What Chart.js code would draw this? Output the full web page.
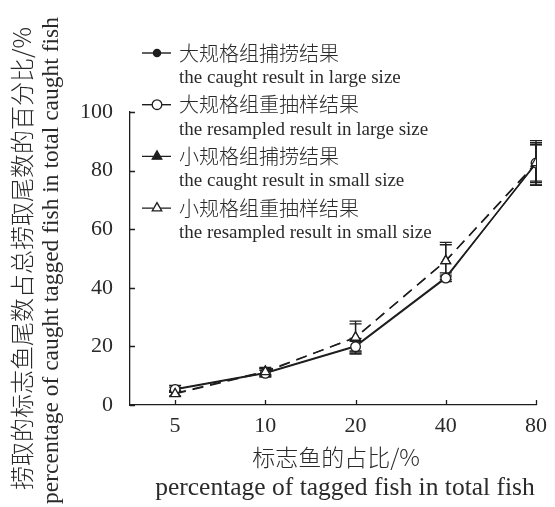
<!DOCTYPE html>
<html>
<head>
<meta charset="utf-8">
<script src="https://cdn.jsdelivr.net/npm/chart.js@4.4.1/dist/chart.umd.min.js"></script>
<style>
  html, body { margin: 0; padding: 0; background: #fff; }
  #wrap { width: 555px; height: 507px; position: relative; }
</style>
</head>
<body>
<div id="wrap"><canvas id="chartTag"></canvas></div>
<script>
// Datos
const xLabels = ['5', '10', '20', '40', '80'];
const yTicks = [0, 20, 40, 60, 80, 100];

const largeCaught = [5.5, 11.0, 20.2, 43.6, 82.4];
const largeCaughtErr = [1.2, 1.5, 2.5, 1.5, 6.5];
const largeResampled = [5.3, 10.8, 19.9, 43.3, 82.6];
const largeResampledErr = [0.8, 1.0, 1.8, 1.0, 7.6];
const smallCaught = [4.0, 11.5, 23.0, 49.2, 82.3];
const smallCaughtErr = [1.0, 1.3, 5.6, 6.3, 7.2];
const smallResampled = [3.8, 11.3, 23.1, 49.2, 82.6];
const smallResampledErr = [0.8, 1.0, 4.6, 5.5, 6.2];

const seriesZh = ['大规格组捕捞结果', '大规格组重抽样结果', '小规格组捕捞结果', '小规格组重抽样结果'];
const seriesEn = ['the caught result in large size', 'the resampled result in large size',
                  'the caught result in small size', 'the resampled result in small size'];

const yTitleZh = '捞取的标志鱼尾数占总捞取尾数的百分比/%';
const yTitleEn = 'percentage of caught tagged fish in total caught fish';
const xTitleZh = '标志鱼的占比/%';
const xTitleEn = 'percentage of tagged fish in total fish';

const INK = '#1e1e1e';
const TEXT = '#2a2a2a';
const SERIF = "'Liberation Serif', 'Noto Sans CJK SC', serif";
const CJK = "'Noto Sans CJK SC', sans-serif";
const DASH = [11, 7];

function toPoints(arr) {
    return arr.map((v, i) => ({ x: i + 1, y: v }));
}

function makeDataset(label, values, errs, style, dashed, filled, order) {
    return {
        label: label,
        data: toPoints(values),
        errs: errs,
        borderColor: INK,
        borderWidth: 1.4,
        borderDash: dashed ? DASH : [],
        pointStyle: style,
        pointRadius: style === 'triangle' ? 5.5 : (filled ? 3.6 : 4.8),
        pointBackgroundColor: filled ? INK : '#fff',
        pointBorderColor: INK,
        pointBorderWidth: 1.3,
        fill: false,
        tension: 0,
        order: order
    };
}

// Barras de error, marcas de eje, títulos y leyenda
const extrasPlugin = {
    id: 'extras',
    beforeDatasetsDraw(chart) {
        const ctx = chart.ctx;
        const xs = chart.scales.x, ys = chart.scales.y;
        ctx.save();
        ctx.strokeStyle = INK;
        ctx.lineWidth = 1.3;
        chart.data.datasets.forEach(ds => {
            ds.data.forEach((p, i) => {
                const e = ds.errs[i];
                const px = xs.getPixelForValue(p.x);
                const top = ys.getPixelForValue(p.y + e);
                const bot = ys.getPixelForValue(p.y - e);
                ctx.beginPath();
                ctx.moveTo(px, top); ctx.lineTo(px, bot);
                ctx.moveTo(px - 6, top); ctx.lineTo(px + 6, top);
                ctx.moveTo(px - 6, bot); ctx.lineTo(px + 6, bot);
                ctx.stroke();
            });
        });
        ctx.restore();
    },
    afterDraw(chart) {
        const ctx = chart.ctx;
        const xs = chart.scales.x, ys = chart.scales.y;
        const area = chart.chartArea;
        ctx.save();
        ctx.strokeStyle = INK;
        ctx.lineWidth = 1.3;
        // marcas hacia dentro
        ctx.beginPath();
        xs.ticks.forEach(t => {
            const px = Math.round(xs.getPixelForValue(t.value)) + 0.5;
            ctx.moveTo(px, area.bottom); ctx.lineTo(px, area.bottom - 5);
        });
        ys.ticks.forEach(t => {
            const py = Math.round(ys.getPixelForValue(t.value)) + 0.5;
            ctx.moveTo(area.left, py); ctx.lineTo(area.left + 5, py);
        });
        ctx.stroke();

        // títulos de ejes
        ctx.fillStyle = TEXT;
        ctx.textAlign = 'center';
        ctx.textBaseline = 'middle';
        ctx.font = '300 23px ' + CJK;
        ctx.fillText(xTitleZh, 336, 457);
        ctx.font = '25.5px ' + SERIF;
        ctx.fillText(xTitleEn, 345, 488);

        const midY = (area.top + area.bottom) / 2;
        ctx.save();
        ctx.translate(22, midY);
        ctx.rotate(-Math.PI / 2);
        ctx.font = '300 24px ' + CJK;
        ctx.fillText(yTitleZh, 0, 0);
        ctx.restore();
        ctx.save();
        ctx.translate(52, midY + 2);
        ctx.rotate(-Math.PI / 2);
        ctx.font = '23.5px ' + SERIF;
        ctx.fillText(yTitleEn, 0, 0);
        ctx.restore();

        // leyenda
        chart.data.datasets.forEach((ds, i) => {
            const y = 53 + i * 51.7;
            ctx.save();
            ctx.setLineDash(ds.borderDash);
            ctx.lineWidth = 1.4;
            ctx.beginPath();
            ctx.moveTo(142, y); ctx.lineTo(171, y);
            ctx.stroke();
            ctx.restore();
            ctx.save();
            ctx.fillStyle = ds.pointBackgroundColor;
            ctx.strokeStyle = INK;
            ctx.lineWidth = ds.pointBorderWidth;
            Chart.helpers.drawPoint(ctx, {
                pointStyle: ds.pointStyle,
                radius: ds.pointRadius,
                borderWidth: ds.pointBorderWidth
            }, 157, y);
            ctx.restore();
            ctx.fillStyle = TEXT;
            ctx.textAlign = 'left';
            ctx.textBaseline = 'middle';
            ctx.font = '300 20px ' + CJK;
            ctx.fillText(seriesZh[i], 179, y);
            ctx.font = '19px ' + SERIF;
            ctx.fillText(seriesEn[i], 179, y + 25);
        });
        ctx.restore();
    }
};

document.addEventListener('DOMContentLoaded', function () {
    const ctx = document.getElementById('chartTag').getContext('2d');
    new Chart(ctx, {
        type: 'line',
        data: {
            datasets: [
                makeDataset(seriesEn[0], largeCaught, largeCaughtErr, 'circle', false, true, 4),
                makeDataset(seriesEn[1], largeResampled, largeResampledErr, 'circle', false, false, 2),
                makeDataset(seriesEn[2], smallCaught, smallCaughtErr, 'triangle', true, true, 3),
                makeDataset(seriesEn[3], smallResampled, smallResampledErr, 'triangle', true, false, 1)
            ]
        },
        options: {
            responsive: true,
            maintainAspectRatio: false,
            animation: false,
            devicePixelRatio: 1,
            layout: { padding: { top: 112, right: 13, bottom: 0, left: 0 } },
            plugins: {
                legend: { display: false },
                tooltip: { enabled: false }
            },
            scales: {
                x: {
                    type: 'linear',
                    min: 0.5,
                    max: 5,
                    afterBuildTicks: scale => {
                        scale.ticks = xLabels.map((l, i) => ({ value: i + 1 }));
                    },
                    afterFit: scale => { scale.height = 102; },
                    ticks: {
                        callback: v => xLabels[v - 1],
                        color: TEXT,
                        font: { family: SERIF, size: 22 },
                        padding: 8,
                        maxRotation: 0
                    },
                    grid: { display: false, drawTicks: false },
                    border: { color: INK, width: 1.3 }
                },
                y: {
                    min: 0,
                    max: 100,
                    afterBuildTicks: scale => {
                        scale.ticks = yTicks.map(v => ({ value: v }));
                    },
                    afterFit: scale => { scale.width = 130; },
                    ticks: {
                        color: TEXT,
                        font: { family: SERIF, size: 22 },
                        padding: 17
                    },
                    grid: { display: false, drawTicks: false },
                    border: { color: INK, width: 1.3 }
                }
            }
        },
        plugins: [extrasPlugin]
    });
});
</script>
</body>
</html>
